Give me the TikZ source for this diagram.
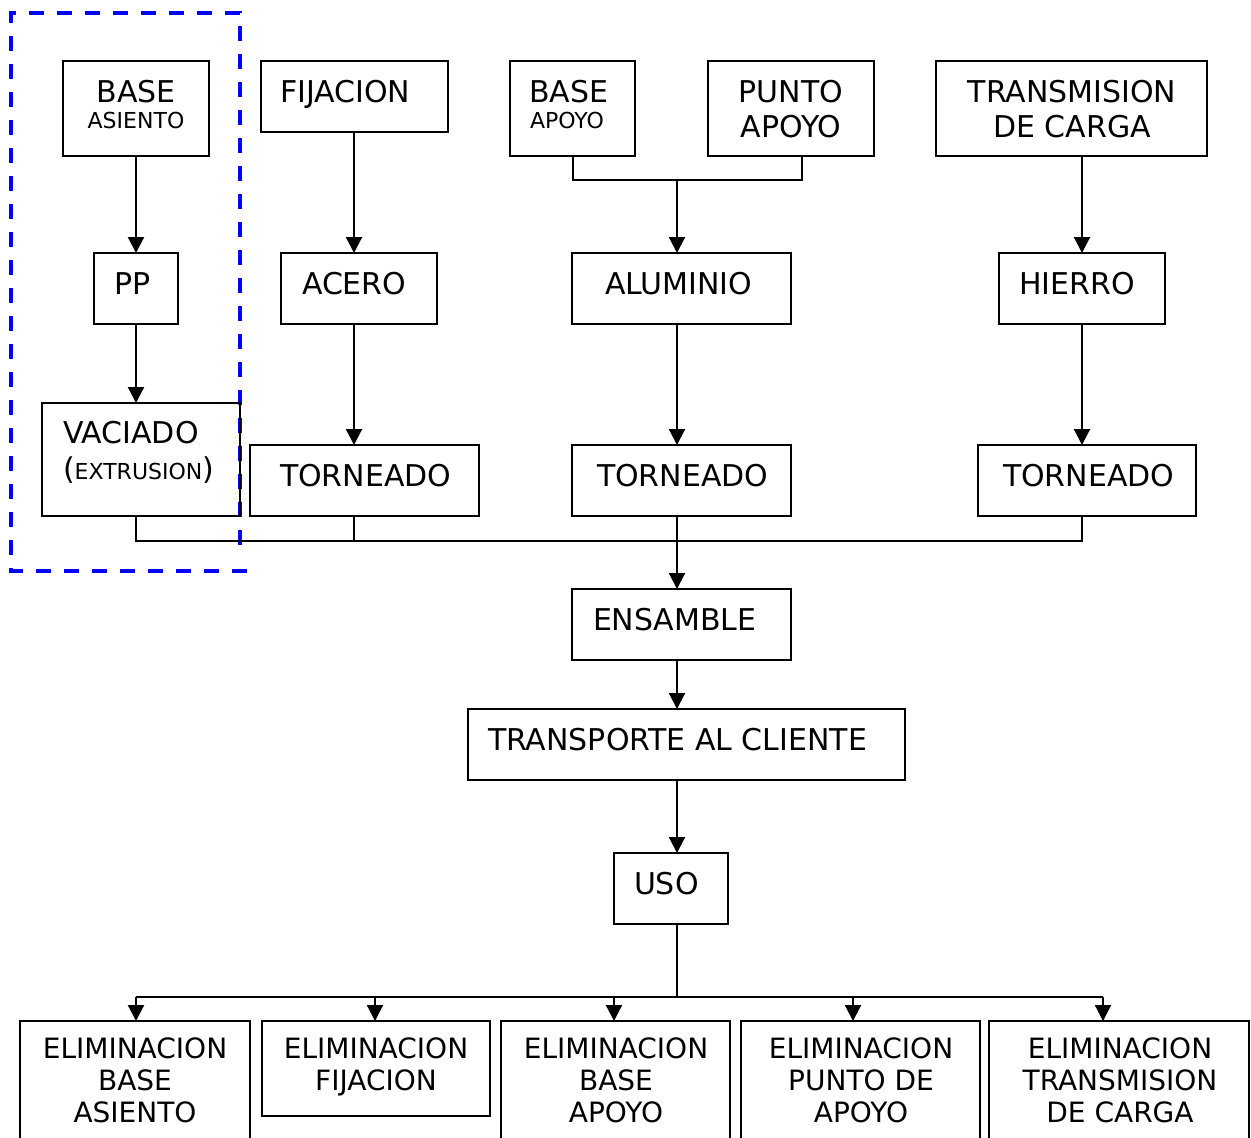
\documentclass[tikz,border=0pt]{standalone}
\usepackage{fontspec}
\setmainfont{DejaVu Sans}
\usetikzlibrary{arrows.meta}
\begin{document}
\begin{tikzpicture}[x=1pt,y=-1pt,
  box/.style={draw=black,line width=2pt,rectangle,inner sep=0pt,outer sep=0pt},
  txt/.style={inner sep=0pt,outer sep=0pt,font=\fontsize{30}{35}\selectfont},
  stxt/.style={inner sep=0pt,outer sep=0pt,font=\fontsize{22}{26}\selectfont},
  btxt/.style={inner sep=0pt,outer sep=0pt,font=\fontsize{28}{32}\selectfont,anchor=base},
  conn/.style={line width=2pt},
  arr/.style={line width=2.2pt,-{Triangle[length=16pt,width=16pt]}}]
\useasboundingbox (0,0) rectangle (1251,1138);
\clip (0,0) rectangle (1251,1138);
% helper x-positions
\coordinate (xa) at (136,0);
\coordinate (xf) at (354,0);
\coordinate (xba) at (573,0);
\coordinate (xpa) at (802,0);
\coordinate (xm) at (677,0);
\coordinate (xt) at (1082,0);
% dashed frame
\draw[blue,line width=4pt,dash pattern=on 15pt off 13pt] (240,545) -- (240,13) -- (11,13) -- (11,571) -- (248,571);
% row 1
\node[box,minimum width=146pt,minimum height=95pt] (ba) at (136,108.5) {};
\node[txt,anchor=base] (tba1) at (136,102) {BASE};
\node[stxt,anchor=base] (tba2) at (136,128) {ASIENTO};
\node[box,minimum width=187pt,minimum height=71pt] (fij) at (354.5,96.5) {};
\node[txt,anchor=base west] (tfij) at (280,102) {FIJACION};
\node[box,minimum width=125pt,minimum height=95pt] (bap) at (572.5,108.5) {};
\node[txt,anchor=base west] (tbap1) at (529,102) {BASE};
\node[stxt,anchor=base west] (tbap2) at (530,128) {APOYO};
\node[box,minimum width=166pt,minimum height=95pt] (pun) at (791,108.5) {};
\node[txt,anchor=base] (tpun1) at (791,102) {PUNTO};
\node[txt,anchor=base] (tpun2) at (791,137) {APOYO};
\node[box,minimum width=271pt,minimum height=95pt] (tra) at (1071.5,108.5) {};
\node[txt,anchor=base] (ttra1) at (1072,102) {TRANSMISION};
\node[txt,anchor=base] (ttra2) at (1072,137) {DE CARGA};
% row 2
\node[box,minimum width=84pt,minimum height=71pt] (pp) at (136,288.5) {};
\node[txt,anchor=base west] (tpp) at (114,294) {PP};
\node[box,minimum width=156pt,minimum height=71pt] (ace) at (359,288.5) {};
\node[txt,anchor=base west] (tace) at (302,294) {ACERO};
\node[box,minimum width=219pt,minimum height=71pt] (alu) at (681.5,288.5) {};
\node[txt,anchor=base west] (talu) at (605,294) {ALUMINIO};
\node[box,minimum width=166pt,minimum height=71pt] (hie) at (1082,288.5) {};
\node[txt,anchor=base west] (thie) at (1019,294) {HIERRO};
% row 3
\node[box,minimum width=198pt,minimum height=113pt] (vac) at (141,459.5) {};
\node[txt,anchor=base west] (tvac1) at (63,443) {VACIADO};
\node[txt,anchor=base west] (tvac2) at (63,479) {(\fontsize{22}{26}\selectfont EXTRUSION\fontsize{30}{35}\selectfont)};
\node[box,minimum width=229pt,minimum height=71pt] (tor1) at (364.5,480.5) {};
\node[txt,anchor=base west] (ttor1) at (280,486) {TORNEADO};
\node[box,minimum width=219pt,minimum height=71pt] (tor2) at (681.5,480.5) {};
\node[txt,anchor=base west] (ttor2) at (597,486) {TORNEADO};
\node[box,minimum width=218pt,minimum height=71pt] (tor3) at (1087,480.5) {};
\node[txt,anchor=base west] (ttor3) at (1003,486) {TORNEADO};
% middle column
\node[box,minimum width=219pt,minimum height=71pt] (ens) at (681.5,624.5) {};
\node[txt,anchor=base west] (tens) at (593,630) {ENSAMBLE};
\node[box,minimum width=437pt,minimum height=71pt] (trc) at (686.5,744.5) {};
\node[txt,anchor=base west] (ttrc) at (488,750) {TRANSPORTE AL CLIENTE};
\node[box,minimum width=114pt,minimum height=71pt] (uso) at (671,888.5) {};
\node[txt,anchor=base west] (tuso) at (634,894) {USO};
% bottom row
\node[box,minimum width=230pt,minimum height=140pt] (e1) at (135,1091) {};
\node[btxt] (te1a) at (135,1058) {ELIMINACION};
\node[btxt] (te1b) at (135,1090) {BASE};
\node[btxt] (te1c) at (135,1122) {ASIENTO};
\node[box,minimum width=228pt,minimum height=95pt] (e2) at (376,1068.5) {};
\node[btxt] (te2a) at (376,1058) {ELIMINACION};
\node[btxt] (te2b) at (376,1090) {FIJACION};
\node[box,minimum width=229pt,minimum height=140pt] (e3) at (615.5,1091) {};
\node[btxt] (te3a) at (616,1058) {ELIMINACION};
\node[btxt] (te3b) at (616,1090) {BASE};
\node[btxt] (te3c) at (616,1122) {APOYO};
\node[box,minimum width=239pt,minimum height=140pt] (e4) at (860.5,1091) {};
\node[btxt] (te4a) at (861,1058) {ELIMINACION};
\node[btxt] (te4b) at (861,1090) {PUNTO DE};
\node[btxt] (te4c) at (861,1122) {APOYO};
\node[box,minimum width=260pt,minimum height=140pt] (e5) at (1119,1091) {};
\node[btxt] (te5a) at (1120,1058) {ELIMINACION};
\node[btxt] (te5b) at (1120,1090) {TRANSMISION};
\node[btxt] (te5c) at (1120,1122) {DE CARGA};
% connectors column 1
\draw[arr] (ba.south) -- (ba.south |- pp.north);
\draw[arr] (pp.south) -- (pp.south |- vac.north);
% column 2
\draw[arr] (fij.south -| xf) -- (ace.north -| xf);
\draw[arr] (ace.south -| xf) -- (tor1.north -| xf);
% column 3
\coordinate (j1) at (677,180);
\draw[conn] (bap.south -| xba) |- (j1) -| (pun.south -| xpa);
\draw[arr] (j1) -- (alu.north -| xm);
\draw[arr] (alu.south -| xm) -- (tor2.north -| xm);
% column 4
\draw[arr] (tra.south -| xt) -- (hie.north -| xt);
\draw[arr] (hie.south -| xt) -- (tor3.north -| xt);
% main bus
\coordinate (j2) at (677,541);
\draw[conn] (vac.south -| xa) |- (j2) -| (tor3.south -| xt);
\draw[conn] (tor1.south -| xf) -- (j2 -| xf);
\draw[conn] (tor2.south -| xm) -- (j2);
\draw[arr] (j2) -- (ens.north -| xm);
\draw[arr] (ens.south -| xm) -- (trc.north -| xm);
\draw[arr] (trc.south -| xm) -- (uso.north -| xm);
% bottom bus
\coordinate (j3) at (677,997);
\coordinate (b1) at (136,997);
\coordinate (b2) at (375,997);
\coordinate (b3) at (614,997);
\coordinate (b4) at (853,997);
\coordinate (b5) at (1103,997);
\draw[conn] (uso.south -| xm) -- (j3);
\draw[conn] (b1) -- (b5);
\draw[arr] (b1) -- (e1.north -| b1);
\draw[arr] (b2) -- (e2.north -| b2);
\draw[arr] (b3) -- (e3.north -| b3);
\draw[arr] (b4) -- (e4.north -| b4);
\draw[arr] (b5) -- (e5.north -| b5);
\end{tikzpicture}
\end{document}
